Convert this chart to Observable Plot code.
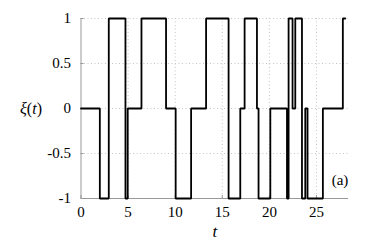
<!DOCTYPE html>
<html><head><meta charset="utf-8">
<script src="https://cdn.jsdelivr.net/npm/d3@7"></script>
<script src="https://cdn.jsdelivr.net/npm/@observablehq/plot@0.6"></script>
<style>
body{margin:0;background:#fff}
</style>
</head><body><div id="chart"></div>
<script>
const tValues  = [0, 2.0, 2.95, 4.72, 4.96, 6.42, 9.03, 10.05, 11.69, 13.28, 15.67, 16.91, 17.37, 18.68, 18.85, 20.1, 21.87, 22.04, 22.46, 22.75, 23.46, 23.81, 24.05, 25.68, 27.8, 28.05];
const xiValues = [0, -1, 1, -1, 0, 1, 0, -1, 0, 1, -1, 0, 1, 0, -1, 0, -1, 1, 0, 1, -1, 0, -1, 0, 1, 1];
const xTicks = [0, 5, 10, 15, 20, 25];
const yTicks = [-1, -0.5, 0, 0.5, 1];
const xGrid = [5, 10, 15, 20, 25];
const yGrid = [-0.5, 0, 0.5, 1];
const xLabel = "t";
const yLabel = "ξ(t)";
const panelLabel = "(a)";
const panelPos = {x: 27.5, y: -0.8};

const data = tValues.map((t, i) => ({t, xi: xiValues[i]}));
const font = "Liberation Serif";

const chart = Plot.plot({
  width: 374, height: 249,
  marginLeft: 80.5, marginRight: 26, marginTop: 18, marginBottom: 51,
  style: {background: "#fff", color: "#000", overflow: "visible"},
  x: {domain: [0, 28.4]},
  y: {domain: [-1, 1]},
  marks: [
    Plot.gridX(xGrid, {stroke: "#c4c4c4", strokeOpacity: 1, strokeDasharray: "1,2.5"}),
    Plot.gridY(yGrid, {stroke: "#c4c4c4", strokeOpacity: 1, strokeDasharray: "1,2.5"}),
    Plot.axisX(xTicks, {tickSize: 0, tickPadding: 8, tickFormat: d => String(d), label: null, fontSize: 15, fontFamily: font}),
    Plot.axisX(xTicks, {tickSize: 3, dy: -3, tickFormat: () => "", label: null, stroke: "#999"}),
    Plot.axisY(yTicks, {tickSize: 0, tickPadding: 10, tickFormat: d => String(d), label: null, fontSize: 15, fontFamily: font}),
    Plot.axisY(yTicks, {tickSize: 3, dx: 3, tickFormat: () => "", label: null, stroke: "#999"}),
    Plot.ruleY([-1], {stroke: "#999"}),
    Plot.ruleX([0], {stroke: "#999"}),
    Plot.line(data, {x: "t", y: "xi", curve: "step-after", stroke: "#000", strokeWidth: 1.8, strokeLinejoin: "miter"}),
    Plot.text([xLabel], {frameAnchor: "bottom", dy: 38, fontSize: 17, fontStyle: "italic", fontFamily: font, text: d => d}),
    Plot.text([yLabel], {frameAnchor: "left", dx: -61, fontSize: 16, fontFamily: font, text: d => d, className: "ylab"}),
    Plot.text([panelLabel], {x: () => panelPos.x, y: () => panelPos.y, text: d => d, fontSize: 15, fontFamily: font})
  ]
});
chart.setAttribute("font-family", font);
chart.setAttribute("font-size", "15");
document.getElementById("chart").appendChild(chart);
d3.select(chart).selectAll("text").attr("font-family", font);
d3.select(chart).selectAll("g.ylab text").each(function() {
  this.innerHTML = '<tspan font-style="italic">ξ</tspan>(<tspan font-style="italic">t</tspan>)';
});
</script>
</body></html>
